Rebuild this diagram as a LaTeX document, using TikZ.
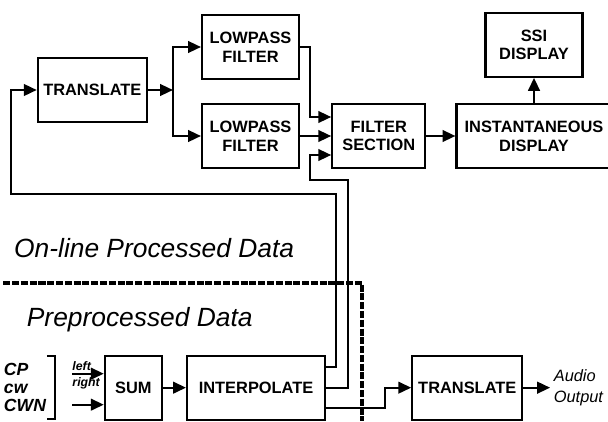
\documentclass[tikz,border=0pt]{standalone}
\usepackage{fontspec}
\setmainfont{Liberation Sans}
\usetikzlibrary{arrows.meta,positioning}

\begin{document}
\begin{tikzpicture}[
    blk/.style={draw, line width=1.9pt, minimum height=1.92cm, inner sep=0pt, align=center, font=\bfseries\fontsize{14}{16}\selectfont},
    note/.style={inner sep=0pt, anchor=west, font=\itshape\fontsize{22.5}{26}\selectfont},
    tag/.style={inner sep=0pt, font=\bfseries\itshape\fontsize{10.5}{11}\selectfont},
    wire/.style={line width=1.7pt},
    >={Triangle[length=11pt,width=10pt]}
]
\useasboundingbox (0,0) rectangle (18.24,12.63);

% on-line part
\node[blk, minimum width=3.27cm] (trans) at (2.77,9.93) {TRANSLATE};
\node[blk, minimum width=2.91cm, right=1.59cm of trans, yshift=1.29cm] (lp1) {LOWPASS\\FILTER};
\node[blk, minimum width=2.91cm, right=1.59cm of trans, yshift=-1.38cm] (lp2) {LOWPASS\\FILTER};
\node[blk, minimum width=2.79cm, right=0.93cm of lp2] (filt) {FILTER\\SECTION};
\node[blk, minimum width=4.65cm, right=0.87cm of filt] (inst) {INSTANTANEOUS\\DISPLAY};
\node[blk, minimum width=2.91cm, above=0.75cm of inst] (ssi) {SSI\\DISPLAY};

\node[note] (online) at (0.42,5.19) {On-line Processed Data};
\node[note] (pre) at (0.8,3.03) {Preprocessed Data};

% preprocessed part
\node[inner sep=0pt, text width=1.53cm, minimum height=1.89cm, align=left, font=\bfseries\itshape\fontsize{15}{15.5}\selectfont] (src) at (0.885,1.0) {CP\\cw\\CWN};
\node[blk, minimum width=1.71cm] (sum) at (4.0,1.0) {SUM};
\node[blk, minimum width=4.14cm, right=0.69cm of sum] (interp) {INTERPOLATE};
\node[blk, minimum width=3.3cm, right=2.55cm of interp] (trans2) {TRANSLATE};
\node[right=0.8cm of trans2, inner sep=3pt, align=left, font=\itshape\fontsize{14}{18}\selectfont] (audio) {Audio\\Output};

\draw[wire] ([xshift=-0.25cm]src.north east) -- (src.north east) -- (src.south east) -- ++(-0.25,0);

\coordinate (lin) at ([xshift=0.51cm,yshift=0.42cm]src.east);
\coordinate (rin) at ([xshift=0.51cm,yshift=-0.51cm]src.east);
\node[tag, anchor=south west] (ltag) at ([yshift=0.08cm]lin) {left};
\node[tag, anchor=west] (rtag) at ([xshift=0.51cm,yshift=0.12cm]src.east) {right};

\coordinate (split) at ([xshift=0.75cm]trans.east);
\coordinate (in1) at ([yshift=0.57cm]filt.west);
\coordinate (in3) at ([yshift=-0.57cm]filt.west);
\coordinate (o1) at ([yshift=0.615cm]interp.east);
\coordinate (o3) at ([yshift=-0.615cm]interp.east);
\coordinate (fb) at (10.08,6.81);
\coordinate (fbl) at ([xshift=-0.78cm]trans.west);
\coordinate (m1) at (10.44,7.23);

\draw[->, wire] (trans) -- (split);
\draw[->, wire] (split) |- (lp1);
\draw[->, wire] (split) |- (lp2);
\draw[->, wire] (lp1) -| ([xshift=-0.63cm]in1) -- (in1);
\draw[->, wire] (lp2) -- (filt);
\draw[->, wire] (filt) -- (inst);
\draw[->, wire] (inst) -- (ssi);

\draw[->, wire] (lin) -- (lin -| sum.west);
\draw[->, wire] (rin) -- (rin -| sum.west);
\draw[->, wire] (sum) -- (interp);
\draw[->, wire] (o1) -| (fb) -| (fbl) -- (trans);
\draw[->, wire] (interp) -| (m1) -| ([xshift=-0.63cm]in3) -- (in3);
\draw[->, wire] (o3) -| ([xshift=-0.78cm]trans2.west) -- (trans2);
\draw[->, wire] (trans2) -- (audio);

% boundary between the two parts
\draw[line width=3pt, dash pattern=on 6pt off 1.5pt] (0.1,4.14) -- (10.86,4.14) -- (10.86,0);

\end{tikzpicture}
\end{document}
